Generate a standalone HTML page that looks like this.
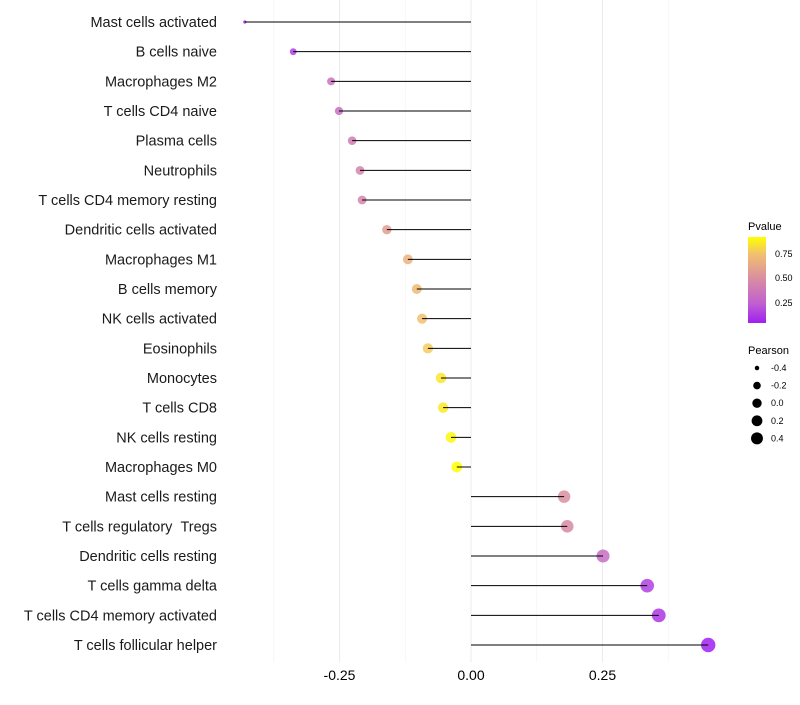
<!DOCTYPE html>
<html><head><meta charset="utf-8"><style>
body{margin:0;background:#fff;font-family:"Liberation Sans",sans-serif}
</style></head><body>
<svg id="chart" width="800" height="700" xmlns="http://www.w3.org/2000/svg" style="font-family:'Liberation Sans',sans-serif">
<defs>
<linearGradient id="pg" x1="0" y1="1" x2="0" y2="0">
<stop offset="0" stop-color="#a020f0"/><stop offset="0.23" stop-color="#c060d0"/><stop offset="0.52" stop-color="#d98ea0"/><stop offset="0.8" stop-color="#f2c070"/><stop offset="1" stop-color="#ffff00"/>
</linearGradient>
</defs>
<g id="grid"></g>
<g id="marks"></g>
<g id="axes"></g>
<g id="legend">
<text x="748" y="230" font-size="11">Pvalue</text>
<rect x="748" y="237" width="18" height="86" fill="url(#pg)"/>
<text x="775" y="257" font-size="9">0.75</text>
<text x="775" y="281" font-size="9">0.50</text>
<text x="775" y="306" font-size="9">0.25</text>
<text x="748" y="354" font-size="11">Pearson</text>
</g>
</svg>
<script>
const categories=["Mast cells activated","B cells naive","Macrophages M2","T cells CD4 naive","Plasma cells","Neutrophils","T cells CD4 memory resting","Dendritic cells activated","Macrophages M1","B cells memory","NK cells activated","Eosinophils","Monocytes","T cells CD8","NK cells resting","Macrophages M0","Mast cells resting","T cells regulatory\u00a0\u00a0Tregs","Dendritic cells resting","T cells gamma delta","T cells CD4 memory activated","T cells follicular helper"];
const pearson=[-0.43,-0.338,-0.266,-0.251,-0.226,-0.211,-0.207,-0.160,-0.120,-0.103,-0.093,-0.082,-0.057,-0.053,-0.038,-0.027,0.177,0.183,0.251,0.335,0.357,0.451];
const pvalue=[0.05,0.15,0.35,0.33,0.40,0.45,0.45,0.58,0.68,0.72,0.75,0.78,0.85,0.86,0.90,0.92,0.50,0.48,0.32,0.15,0.12,0.04];
const xTicks=[-0.25,0,0.25];
const xTickLabels=["-0.25","0.00","0.25"];
const xMinor=[-0.375,-0.125,0.125,0.375];
const sizeLegendVals=[-0.4,-0.2,0,0.2,0.4];
const sizeLegendLabels=["-0.4","-0.2","0.0","0.2","0.4"];
const NS="http://www.w3.org/2000/svg";
const x=v=>471+v*526;
const y=i=>22+i*(623/21);
const pMin=Math.min(...pearson),pMax=Math.max(...pearson);
const rad=v=>{const t=Math.max(0,Math.min(1,(v-pMin)/(pMax-pMin)));return 1.6+5.6*Math.sqrt(t);};
const stops=[[0.046,[160,32,240]],[0.25,[192,96,208]],[0.5,[217,142,160]],[0.75,[242,192,112]],[0.92,[255,255,0]]];
function col(p){if(p<=stops[0][0])return"rgb("+stops[0][1]+")";for(let k=1;k<stops.length;k++){if(p<=stops[k][0]){const a=stops[k-1],b=stops[k],t=(p-a[0])/(b[0]-a[0]);return"rgb("+a[1].map((c,j)=>Math.round(c+(b[1][j]-c)*t)).join(",")+")";}}return"rgb(255,255,0)";}
function mk(t,a,p){const e=document.createElementNS(NS,t);for(const k in a)e.setAttribute(k,a[k]);p.appendChild(e);return e;}
const grid=document.getElementById('grid'),marks=document.getElementById('marks'),axes=document.getElementById('axes'),legend=document.getElementById('legend');
xMinor.forEach(v=>{const l=mk('line',{x1:x(v),x2:x(v),y1:0,y2:662,stroke:'#f2f2f2','stroke-width':0.6},grid);

});
xTicks.forEach((v,i)=>{const l=mk('line',{x1:x(v),x2:x(v),y1:0,y2:662,stroke:'#ebebeb','stroke-width':1},grid);


const t=mk('text',{x:x(v),y:680,'font-size':14,'text-anchor':'middle',fill:'#000'},axes);t.textContent=xTickLabels[i];

});
categories.forEach((c,i)=>{const yy=y(i);
const t=mk('text',{x:217,y:yy+5,'font-size':14.5,'text-anchor':'end',fill:'#1a1a1a'},axes);t.textContent=c;


const d=mk('circle',{cx:x(pearson[i]),cy:yy,r:rad(pearson[i]),fill:col(pvalue[i]),'fill-opacity':0.85},marks);


const s=mk('line',{x1:x(0),x2:x(pearson[i]),y1:yy,y2:yy,stroke:'#000','stroke-width':1},marks);

});
sizeLegendVals.forEach((v,i)=>{const yy=368+i*17.6;
const d=mk('circle',{cx:757,cy:yy,r:rad(v)*0.85,fill:'#000'},legend);


const t=mk('text',{x:771,y:yy+3,'font-size':9},legend);t.textContent=sizeLegendLabels[i];

});
</script>
</body></html>
